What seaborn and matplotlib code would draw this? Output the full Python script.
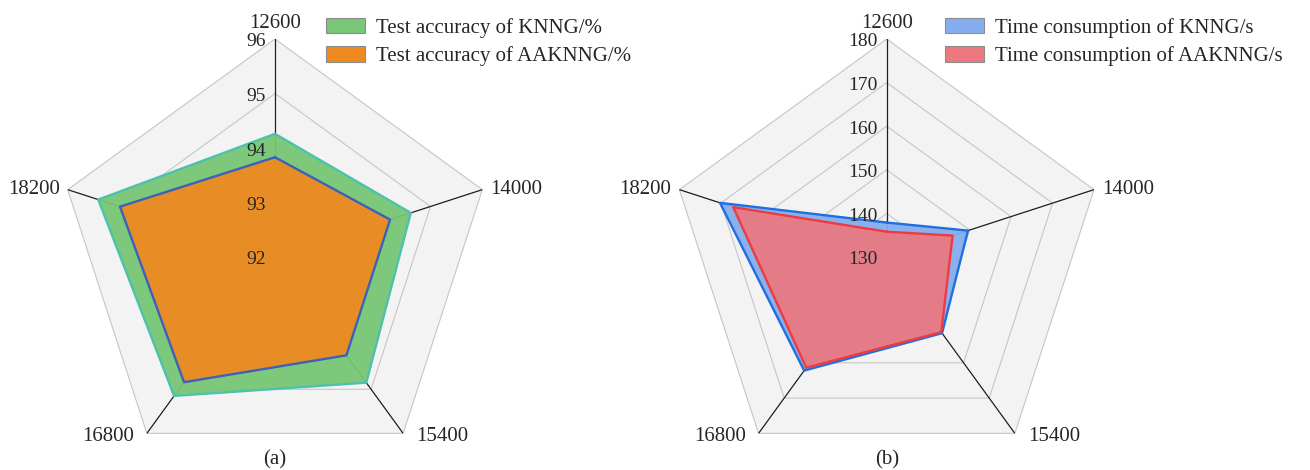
import numpy as np
import matplotlib
matplotlib.use("Agg")
import matplotlib.pyplot as plt
from matplotlib.patches import Patch
import seaborn as sns

# Sample sizes on the radar spokes (clockwise from the top)
categories = ["12600", "14000", "15400", "16800", "18200"]

# (a) test accuracy, %
acc_knng = [94.26, 94.62, 94.85, 95.15, 95.41]
acc_aaknng = [93.83, 94.22, 94.23, 94.84, 94.99]
acc_ticks = [92, 93, 94, 95, 96]
acc_labels = ["Test accuracy of KNNG/%", "Test accuracy of AAKNNG/%"]

# (b) time consumption, s
time_knng = [137.9, 149.6, 151.6, 162.2, 170.2]
time_aaknng = [135.8, 145.9, 151.3, 161.4, 167.0]
time_ticks = [130, 140, 150, 160, 170, 180]
time_labels = ["Time consumption of KNNG/s", "Time consumption of AAKNNG/s"]

sns.set_theme(style="white")
plt.rcParams["font.family"] = ["Liberation Serif", "DejaVu Serif"]

W, H = 1310, 470
fig = plt.figure(figsize=(W / 100, H / 100), dpi=100)

n = len(categories)
theta = np.linspace(0, 2 * np.pi, n, endpoint=False)
theta_c = np.append(theta, 2 * np.pi)


def closed(vals):
    return list(vals) + [vals[0]]


# label offsets (pixels) around the outer ring
cat_pos = [((0, 16), "center"), ((8, 0), "left"), ((13, -3), "left"),
           ((-13, -3), "right"), ((-8, 0), "right")]


def radar(cx, ticks, series, styles, labels, leg_xy, caption):
    R = 218
    cy = 257
    ax = fig.add_axes([(cx - R) / W, (H - cy - R) / H, 2 * R / W, 2 * R / H],
                      projection="polar")
    ax.set_theta_offset(np.pi / 2)
    ax.set_theta_direction(-1)
    lo, hi = ticks[0], ticks[-1]
    ax.grid(False)
    ax.spines["polar"].set_visible(False)
    ax.patch.set_visible(False)

    # pentagon background, rings and spokes
    ax.fill(theta_c, [hi] * (n + 1), color="#f3f3f3", lw=0, zorder=0)
    for t in ticks[1:]:
        ax.plot(theta_c, [t] * (n + 1), color="#c6c6c6", lw=0.8, zorder=1)
    for th in theta:
        ax.plot([th, th], [lo, hi], color="#1e1e1e", lw=0.9, zorder=1)

    # data polygons
    for vals, (fc, ec, alpha) in zip(series, styles):
        ax.fill(theta_c, closed(vals), color=fc, alpha=alpha, lw=0, zorder=2)
        sns.lineplot(x=theta_c, y=closed(vals), sort=False, estimator=None,
                     color=ec, lw=1.7, ax=ax, zorder=3)

    ax.set_xticks([])
    ax.set_yticks([])
    ax.set_xlabel("")
    ax.set_ylabel("")
    ax.set_ylim(lo, hi)

    for t in ticks:
        ax.annotate(str(t), xy=(0, t), xytext=(-9, -3), textcoords="offset pixels",
                    ha="right", va="center", fontsize=14, annotation_clip=False,
                    zorder=5)
    for th, lab, (off, ha) in zip(theta, categories, cat_pos):
        ax.annotate(lab, xy=(th, hi), xytext=off, textcoords="offset pixels",
                    ha=ha, va="center", fontsize=15, annotation_clip=False)

    handles = [Patch(facecolor=fc, edgecolor="#8c8c8c", lw=0.8, alpha=1.0)
               for fc, _, _ in styles]
    fig.legend(handles=handles, labels=labels, loc="upper left",
               bbox_to_anchor=(leg_xy[0] / W, 1 - leg_xy[1] / H),
               frameon=False, fontsize=15, handlelength=1.85, handleheight=0.75,
               handletextpad=0.55, labelspacing=0.4, borderpad=0,
               borderaxespad=0)
    fig.text(cx / W, 1 - 460 / H, caption, ha="center", va="center", fontsize=15)
    return ax


radar(275, acc_ticks, [acc_knng, acc_aaknng],
      [("#78c676", "#4cc2ad", 0.95), ("#ef8a20", "#3b62b8", 0.95)],
      acc_labels, (326, 18), "(a)")

radar(886.7, time_ticks, [time_knng, time_aaknng],
      [("#86adee", "#1f6fe0", 0.95), ("#ec7880", "#ee3b3f", 0.93)],
      time_labels, (945, 18), "(b)")

fig.savefig("out.png", dpi=100)
